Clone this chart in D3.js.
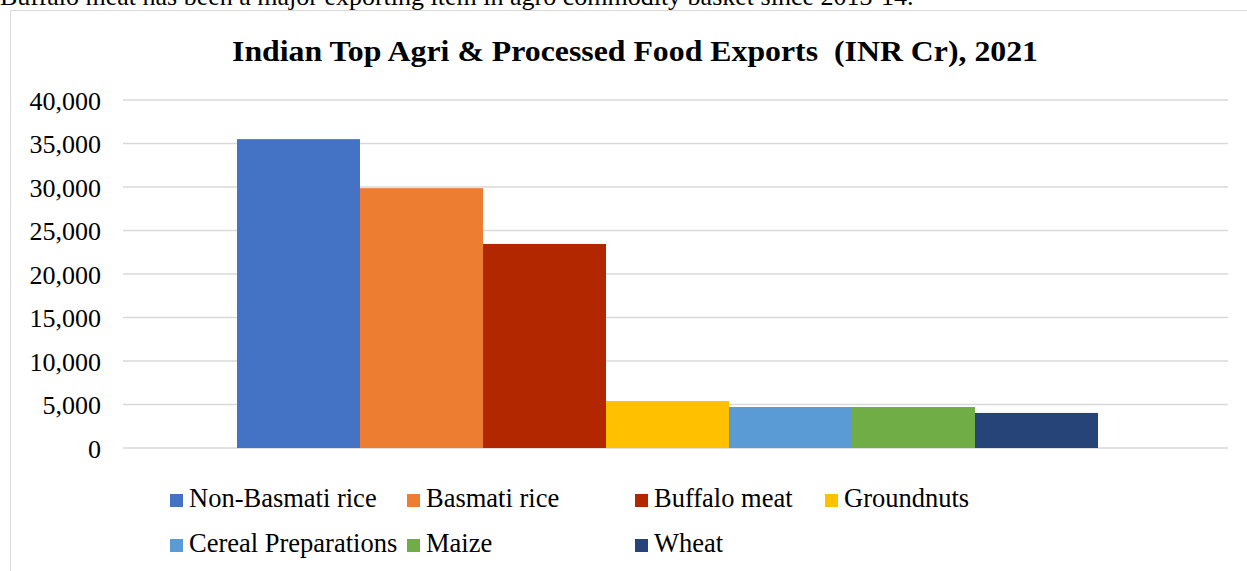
<!DOCTYPE html>
<html>
<head>
<meta charset="utf-8">
<script src="https://cdn.jsdelivr.net/npm/d3@7"></script>
<style>
  body { margin: 0; background: #fff; }
  svg { display: block; font-family: "Liberation Serif", "Times New Roman", serif; }
</style>
</head>
<body>
<svg width="1247" height="571"></svg>
<script>
// data
var products = ["Non-Basmati rice", "Basmati rice", "Buffalo meat", "Groundnuts",
                "Cereal Preparations", "Maize", "Wheat"];
var exportValues = [35500, 29870, 23450, 5400, 4710, 4710, 4030];
var barColors = ["#4472C4", "#ED7D31", "#B22600", "#FFC000", "#5B9BD5", "#70AD47", "#264478"];
var yTicks = [0, 5000, 10000, 15000, 20000, 25000, 30000, 35000, 40000];

var svg = d3.select("svg"),
    width = +svg.attr("width"),
    height = +svg.attr("height");

// bit of the paragraph above the chart, cut off at the top
svg.append("text")
    .attr("x", 0)
    .attr("y", 5)
    .style("font-size", "26px")
    .attr("fill", "#000")
    .text("Buffalo meat has been a major exporting item in agro commodity basket since 2013-14.");

// chart frame (only top + left show in the crop)
svg.append("path")
    .attr("d", "M10.5," + height + "V10.5H" + width)
    .attr("fill", "none")
    .attr("stroke", "#d9d9d9")
    .attr("stroke-width", 1);

// title is a bit stretched in the original, so force its length
svg.append("text")
    .attr("x", 232)
    .attr("y", 61)
    .attr("textLength", 806)
    .attr("lengthAdjust", "spacingAndGlyphs")
    .style("font-size", "30px")
    .style("font-weight", "bold")
    .attr("xml:space", "preserve")
    .text("Indian Top Agri & Processed Food Exports  (INR Cr), 2021");

var plot = {left: 123, right: 1228, top: 100, bottom: 448};

var y = d3.scaleLinear().domain([0, 40000]).range([plot.bottom, plot.top]);

// one category, series bars side by side
var x = d3.scaleBand()
    .domain(products)
    .range([237, 1098])
    .padding(0);

var grid = svg.append("g").attr("class", "grid");
grid.selectAll("line")
    .data(yTicks)
    .enter().append("line")
      .attr("x1", plot.left)
      .attr("x2", plot.right)
      .attr("y1", function(d) { return y(d); })
      .attr("y2", function(d) { return y(d); })
      .attr("stroke", "#d9d9d9")
      .attr("stroke-width", 1.5);

var yAxis = svg.append("g")
    .attr("transform", "translate(101,0)")
    .call(d3.axisLeft(y).tickValues(yTicks).tickSize(0).tickPadding(0)
      .tickFormat(d3.format(",")));
yAxis.select(".domain").remove();
yAxis.selectAll("text")
    .style("font-family", "Liberation Serif, Times New Roman, serif")
    .style("font-size", "26px")
    .attr("fill", "#000")
    .attr("dy", "0.35em");

svg.append("g")
    .selectAll("rect")
    .data(products)
    .enter().append("rect")
      .attr("x", function(d) { return x(d); })
      .attr("width", x.bandwidth())
      .attr("y", function(d, i) { return y(exportValues[i]); })
      .attr("height", function(d, i) { return y(0) - y(exportValues[i]); })
      .attr("fill", function(d, i) { return barColors[i]; });

// legend, two rows like excel lays it out
var legendCols = [170, 407, 635, 825];
var legendRows = [494, 539];
var legend = svg.append("g").attr("class", "legend")
    .selectAll("g")
    .data(products)
    .enter().append("g")
      .attr("transform", function(d, i) {
        var col = i < 4 ? i : i - 4;
        var row = i < 4 ? 0 : 1;
        return "translate(" + legendCols[col] + "," + legendRows[row] + ")";
      });

legend.append("rect")
    .attr("width", 13)
    .attr("height", 13)
    .attr("fill", function(d, i) { return barColors[i]; });

legend.append("text")
    .attr("x", 19)
    .attr("y", 13)
    .style("font-size", "26.5px")
    .attr("fill", "#000")
    .text(function(d) { return d; });
</script>
</body>
</html>
